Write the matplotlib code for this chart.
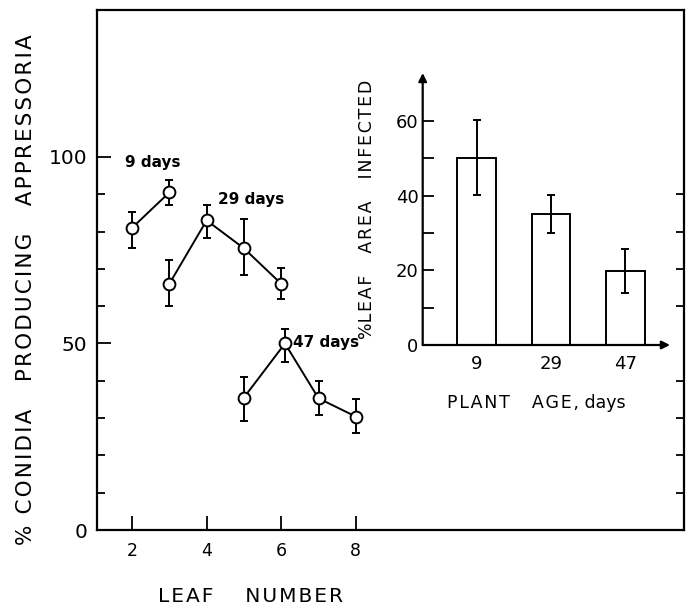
import matplotlib
matplotlib.use("Agg")
import matplotlib.pyplot as plt
from matplotlib.ticker import FixedLocator

# ---- data: main panel (leaf number vs % conidia producing appressoria)
leaf_9 = [2, 3]
pct_9 = [81, 90.5]
lo_9 = [75.5, 87]
hi_9 = [85.3, 93.8]

leaf_29 = [3, 4, 5, 6]
pct_29 = [66, 83, 75.5, 66]
lo_29 = [60, 78.2, 68.4, 62]
hi_29 = [72.4, 87.1, 83.5, 70.3]

leaf_47 = [5, 6.1, 7, 8]
pct_47 = [35.5, 50, 35.3, 30.4]
lo_47 = [29.3, 45.1, 30.8, 26.1]
hi_47 = [41, 53.9, 40, 35]

series_labels = ["9 days", "29 days", "47 days"]

# ---- data: inset (plant age vs % leaf area infected)
ages = ["9", "29", "47"]
infected = [50, 35.1, 19.9]
inf_lo = [40.3, 30, 14]
inf_hi = [60.2, 40.3, 25.7]

x_ticks = [2, 4, 6, 8]
y_major = [0, 50, 100]
y_major_labels = ["0", "50", "100"]
y_minor = [10, 20, 30, 40, 60, 70, 80, 90]
inset_major = [0, 20, 40, 60]
inset_minor = [10, 30, 50]

HS = "\u200a"  # hair space for letter spacing


def spaced(s):
    return HS.join(list(s))


fig = plt.figure(figsize=(6.92, 6.11), dpi=100)
ax = fig.add_axes([97/692, 1-530/611, (684-97)/692, (530-10)/611])

for xs, ys, lo, hi in [(leaf_9, pct_9, lo_9, hi_9),
                       (leaf_29, pct_29, lo_29, hi_29),
                       (leaf_47, pct_47, lo_47, hi_47)]:
    yerr = [[y - l for y, l in zip(ys, lo)], [h - y for y, h in zip(ys, hi)]]
    ax.errorbar(xs, ys, yerr=yerr, fmt='-o', color='black', lw=1.4,
                elinewidth=1.4, capsize=3, capthick=1.4, markersize=8.5,
                markerfacecolor='white', markeredgecolor='black',
                markeredgewidth=1.4, zorder=3)

ax.text(2.55, 98.5, series_labels[0], ha='center', va='center', fontsize=11, fontweight='bold')
ax.text(5.2, 88.5, series_labels[1], ha='center', va='center', fontsize=11, fontweight='bold')
ax.text(6.32, 50.3, series_labels[2], ha='left', va='center', fontsize=11, fontweight='bold')

ax.set_xlim(1.06, 16.8)
ax.set_ylim(0, 139.4)
ax.xaxis.set_major_locator(FixedLocator(x_ticks))
ax.yaxis.set_major_locator(FixedLocator(y_major))
ax.yaxis.set_minor_locator(FixedLocator(y_minor))
ax.set_yticklabels(y_major_labels)
ax.tick_params(axis='y', which='major', direction='in', length=10, width=1.3,
               labelsize=14.5, pad=7)
ax.tick_params(axis='y', which='minor', direction='in', length=6, width=1.3, right=True)
ax.tick_params(axis='x', which='major', direction='in', length=10, width=1.3,
               labelsize=12.5, pad=9)
for sp in ax.spines.values():
    sp.set_linewidth(1.6)

ylab = spaced("% CONIDIA") + "    " + spaced("PRODUCING") + "    " + spaced("APPRESSORIA")
fig.text(26/692, 1-290/611, ylab, rotation=90, ha='center', va='center', fontsize=15.5)
fig.text(250/692, 1-596/611, spaced("LEAF") + "     " + spaced("NUMBER"),
         ha='center', va='center', fontsize=14.5)

# ---- inset
ix = fig.add_axes([422.7/692, 1-345/611, (670-422.7)/692, (345-73)/611])
pos = list(range(len(ages)))
ix.bar(pos, infected, width=0.52, color='white', edgecolor='black', linewidth=1.4, zorder=2)
ix.errorbar(pos, infected,
            yerr=[[v - l for v, l in zip(infected, inf_lo)], [h - v for v, h in zip(infected, inf_hi)]],
            fmt='none', ecolor='black', elinewidth=1.4, capsize=3, capthick=1.4, zorder=3)
ix.set_xlim(-0.723, 2.60)
ix.set_ylim(0, 72.9)
ix.set_xticks(pos)
ix.set_xticklabels(ages)
ix.yaxis.set_major_locator(FixedLocator(inset_major))
ix.yaxis.set_minor_locator(FixedLocator(inset_minor))
ix.tick_params(axis='x', length=0, labelsize=13, pad=7)
ix.tick_params(axis='y', which='major', direction='in', length=8, width=1.3, labelsize=13, pad=3)
ix.tick_params(axis='y', which='minor', direction='in', length=8, width=1.3)
for sp in ix.spines.values():
    sp.set_visible(False)
ix.patch.set_alpha(0)
ix.annotate('', xy=(0, 1), xytext=(0, 0), xycoords='axes fraction',
            arrowprops=dict(arrowstyle='-|>', lw=1.6, color='black', mutation_scale=12,
                            shrinkA=0, shrinkB=0))
ix.annotate('', xy=(1, 0), xytext=(0, 0), xycoords='axes fraction',
            arrowprops=dict(arrowstyle='-|>', lw=1.6, color='black', mutation_scale=12,
                            shrinkA=0, shrinkB=0))
fig.text(367/692, 1-209/611, "%" + spaced("LEAF") + "    " + spaced("AREA") + "    " + spaced("INFECTED"),
         rotation=90, ha='center', va='center', fontsize=12.5)
fig.text(536/692, 1-403/611, spaced("PLANT") + "    " + spaced("AGE,") + " days",
         ha='center', va='center', fontsize=12.5)

fig.savefig("out.png", dpi=100)
